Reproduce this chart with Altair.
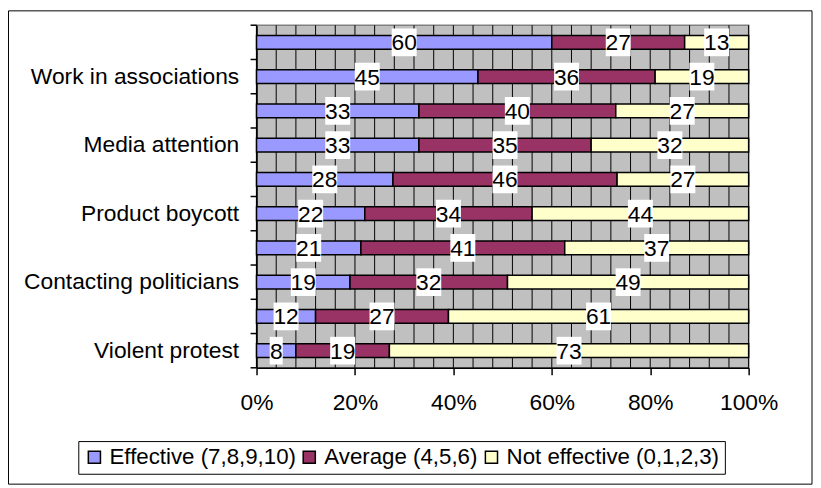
import altair as alt
import pandas as pd

categories = [
    "(row 1)", "Work in associations", "(row 3)", "Media attention",
    "(row 5)", "Product boycott", "(row 7)", "Contacting politicians",
    "(row 9)", "Violent protest",
]
series = ["Effective (7,8,9,10)", "Average (4,5,6)", "Not effective (0,1,2,3)"]
effective = [60, 45, 33, 33, 28, 22, 21, 19, 12, 8]
average = [27, 36, 40, 35, 46, 34, 41, 32, 27, 19]
not_effective = [13, 19, 27, 32, 27, 44, 37, 49, 61, 73]
colors = ["#9999FF", "#993366", "#FFFFCC"]
x_ticks = [0, 0.2, 0.4, 0.6, 0.8, 1.0]
grid_pos = [i / 25 for i in range(26)]

rows = []
for i, c in enumerate(categories):
    for j, (s, vals) in enumerate(zip(series, [effective, average, not_effective])):
        rows.append({"cat": c, "series": s, "order": j, "v": vals[i]})
df = pd.DataFrame(rows)

FONT = "Liberation Sans"
FS = 23
W, H = 497, 346

base = alt.Chart(df).transform_stack(
    stack="v", groupby=["cat"], as_=["x0", "x1"], offset="normalize",
    sort=[alt.SortField("order", order="ascending")],
).transform_calculate(mid="(datum.x0 + datum.x1) / 2")

yenc = alt.Y(
    "cat:N", sort=categories, title=None,
    scale=alt.Scale(paddingInner=0, paddingOuter=0),
    axis=alt.Axis(
        ticks=False, domain=True, domainColor="black", domainWidth=1.5,
        labelFont=FONT, labelFontSize=FS, labelColor="black", labelPadding=18,
        labelLimit=0,
        labelExpr="indexof(datum.label, '(row') == 0 ? '' : datum.label",
        grid=False,
    ),
)
xscale = alt.Scale(domain=[0, 1])
xaxis = alt.Axis(
    values=x_ticks, format=".0%", grid=False, domainColor="black",
    domainWidth=1.5, tickColor="black", tickSize=7, tickWidth=1.5,
    labelFont=FONT, labelFontSize=FS, labelColor="black", labelPadding=17,
    labelFlush=False, labelOverlap=False,
)

grid = alt.Chart(pd.DataFrame({"g": grid_pos})).mark_rule(
    color="black", strokeWidth=1
).encode(x=alt.X("g:Q", scale=xscale, axis=xaxis, title=None))

bars = base.mark_bar(height=14, stroke="black", strokeWidth=1.5).encode(
    x=alt.X("x0:Q", scale=xscale, title=None, axis=xaxis),
    x2="x1:Q",
    y=yenc,
    color=alt.Color(
        "series:N", sort=series, title=None,
        scale=alt.Scale(domain=series, range=colors),
        legend=alt.Legend(
            orient="none", legendX=-180, legendY=420, direction="horizontal",
            symbolType="square", symbolSize=150, symbolStrokeColor="black",
            symbolStrokeWidth=1.5, labelFont=FONT, labelFontSize=22.5,
            labelColor="black", strokeColor="black", padding=5,
            columnPadding=2, labelOffset=4, fillColor="white", labelLimit=0,
        ),
    ),
    order=alt.Order("order:Q"),
)

box_wide = "M-0.9,-1H0.9V1H-0.9Z"
box_narrow = "M-0.47,-1H0.47V1H-0.47Z"
boxes = base.mark_point(filled=True, fill="white", opacity=1, size=784, strokeWidth=0).encode(
    x=alt.X("mid:Q", scale=xscale),
    y=alt.Y("cat:N", sort=categories),
    shape=alt.condition("datum.v < 10", alt.value(box_narrow), alt.value(box_wide)),
)
labels = base.mark_text(font=FONT, fontSize=FS, color="black", baseline="middle", dy=1).encode(
    x=alt.X("mid:Q", scale=xscale),
    y=alt.Y("cat:N", sort=categories),
    text=alt.Text("v:Q", format="d"),
)

ticks_y = alt.Chart(pd.DataFrame({"cat": categories})).mark_rule(
    color="black", strokeWidth=1.5
).encode(
    y=alt.Y("cat:N", sort=categories, bandPosition=0),
    x=alt.value(-6), x2=alt.value(0),
)
tick_bottom = alt.Chart(pd.DataFrame({"k": [0]})).mark_rule(
    color="black", strokeWidth=1.5
).encode(y=alt.value(H), x=alt.value(-6), x2=alt.value(0))

border = alt.Chart(pd.DataFrame({"k": [0]})).mark_rect(
    fillOpacity=0, stroke="black", strokeWidth=1
).encode(
    x=alt.value(-250.5), x2=alt.value(561), y=alt.value(-14.5), y2=alt.value(463.5)
)

chart = alt.layer(grid, bars, boxes, labels, ticks_y, tick_bottom, border).properties(
    width=W, height=H,
    autosize=alt.AutoSizeParams(type="none"),
    padding={"left": 251, "top": 15, "right": 65, "bottom": 119},
    background="white",
).configure_view(fill="#C0C0C0", stroke="#808080", strokeWidth=1.5)

chart.save("out.html", embed_options={"renderer": "svg", "actions": False})
